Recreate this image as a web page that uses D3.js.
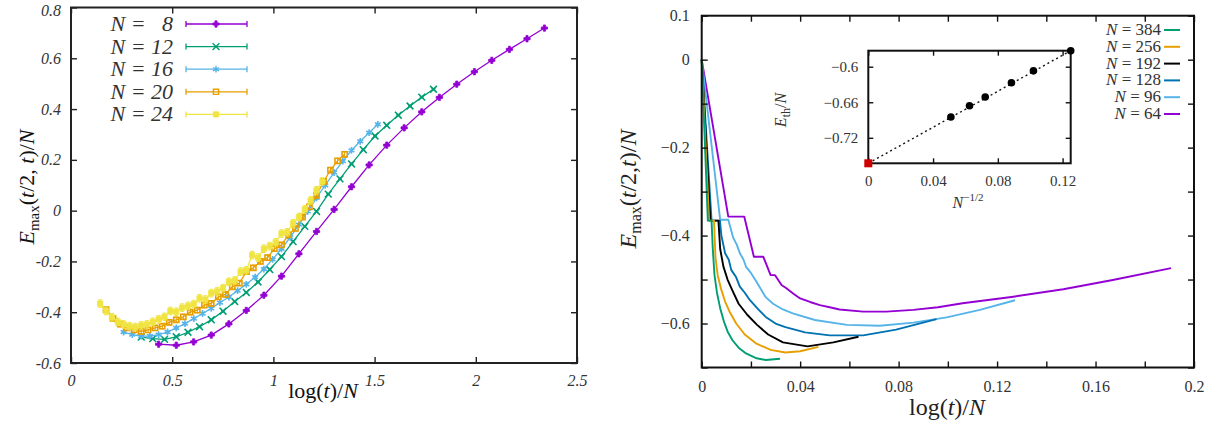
<!DOCTYPE html>
<html>
<head>
<meta charset="utf-8">
<script src="https://cdn.jsdelivr.net/npm/d3@7"></script>
<style>
  body { margin: 0; background: #fff; }
  svg text { font-family: "Liberation Serif", "Times New Roman", serif; }
</style>
</head>
<body>
<svg id="chart" width="1213" height="423"></svg>
<script>
// ---- left panel data: log(t)/N vs Emax(t/2,t)/N ----
const leftN = [8, 12, 16, 20, 24];

const l8x = [0.433,0.520,0.606,0.693,0.780,0.866,0.953,1.040,1.126,1.213,1.300,1.386,1.473,1.560,1.646,1.733,1.820,1.906,1.993,2.079,2.166,2.253,2.339];
const l8y = [-0.526,-0.530,-0.517,-0.490,-0.446,-0.393,-0.333,-0.258,-0.170,-0.082,0.005,0.094,0.180,0.258,0.326,0.389,0.446,0.498,0.547,0.592,0.635,0.677,0.719];

const l12x = [0.347,0.404,0.462,0.520,0.578,0.635,0.693,0.751,0.809,0.866,0.924,0.982,1.040,1.097,1.155,1.213,1.271,1.329,1.386,1.444,1.502,1.560,1.617,1.675,1.733,1.791];
const l12y = [-0.498,-0.504,-0.507,-0.497,-0.479,-0.457,-0.430,-0.396,-0.358,-0.322,-0.281,-0.232,-0.181,-0.122,-0.062,-0.003,0.065,0.125,0.184,0.240,0.294,0.336,0.376,0.412,0.447,0.478];

const l16x = [0.260,0.303,0.347,0.390,0.433,0.477,0.520,0.563,0.607,0.650,0.693,0.736,0.780,0.823,0.866,0.910,0.953,0.996,1.040,1.083,1.126,1.170,1.213,1.256,1.300,1.343,1.386,1.429,1.473,1.516];
const l16y = [-0.478,-0.488,-0.494,-0.494,-0.488,-0.478,-0.462,-0.445,-0.425,-0.405,-0.385,-0.362,-0.340,-0.315,-0.290,-0.262,-0.230,-0.192,-0.150,-0.105,-0.055,-0.003,0.050,0.100,0.150,0.195,0.237,0.273,0.307,0.340];

const l20x = [0.173,0.208,0.243,0.277,0.312,0.347,0.381,0.416,0.451,0.485,0.520,0.555,0.589,0.624,0.659,0.693,0.728,0.763,0.797,0.832,0.867,0.901,0.936,0.971,1.005,1.040,1.075,1.109,1.144,1.178,1.213,1.248,1.282,1.317,1.352];
const l20y = [-0.390,-0.425,-0.447,-0.462,-0.470,-0.475,-0.470,-0.462,-0.455,-0.440,-0.430,-0.418,-0.400,-0.392,-0.372,-0.365,-0.340,-0.330,-0.300,-0.285,-0.240,-0.225,-0.200,-0.185,-0.150,-0.135,-0.095,-0.070,-0.025,0.015,0.060,0.115,0.160,0.196,0.222];

const l24x = [0.144,0.173,0.202,0.231,0.260,0.289,0.318,0.347,0.375,0.404,0.433,0.462,0.491,0.520,0.549,0.578,0.606,0.635,0.664,0.693,0.722,0.751,0.780,0.809,0.838,0.866,0.895,0.924,0.953,0.982,1.011,1.040,1.068,1.097,1.126,1.155,1.184,1.213,1.242];
const l24y = [-0.366,-0.395,-0.420,-0.438,-0.448,-0.455,-0.458,-0.452,-0.448,-0.438,-0.428,-0.418,-0.395,-0.398,-0.382,-0.375,-0.368,-0.345,-0.350,-0.325,-0.318,-0.305,-0.280,-0.275,-0.240,-0.235,-0.175,-0.185,-0.150,-0.140,-0.125,-0.090,-0.085,-0.050,-0.025,0.005,0.040,0.080,0.115];

// typical error bar half-width per series
const leftErr = [0.003, 0.003, 0.004, 0.010, 0.015];

// ---- right panel data ----
const rightN = [384, 256, 192, 128, 96, 64];

const r384x = [0,0.0025,0.0040,0.0045,0.0052,0.0062,0.0075,0.0090,0.0105,0.0125,0.0150,0.0180,0.0223,0.0260,0.0318];
const r384y = [0,-0.366,-0.366,-0.430,-0.490,-0.530,-0.565,-0.595,-0.618,-0.638,-0.655,-0.668,-0.679,-0.683,-0.680];

const r256x = [0,0.0030,0.0050,0.0056,0.0065,0.0078,0.0095,0.0115,0.0140,0.0175,0.0220,0.0280,0.0340,0.0400,0.0474];
const r256y = [0,-0.366,-0.366,-0.450,-0.490,-0.520,-0.550,-0.575,-0.600,-0.625,-0.645,-0.660,-0.666,-0.663,-0.653];

const r192x = [0,0.0035,0.0068,0.0075,0.0088,0.0105,0.0125,0.0150,0.0185,0.0225,0.0270,0.0330,0.0430,0.0535,0.0637];
const r192y = [0,-0.366,-0.366,-0.430,-0.470,-0.500,-0.525,-0.555,-0.580,-0.603,-0.625,-0.643,-0.652,-0.643,-0.630];

const r128x = [0,0.0040,0.0074,0.0080,0.0095,0.0110,0.0120,0.0140,0.0155,0.0175,0.0196,0.0230,0.0260,0.0300,0.0340,0.0420,0.0520,0.0656,0.0790,0.0954];
const r128y = [0,-0.366,-0.366,-0.400,-0.440,-0.455,-0.478,-0.495,-0.516,-0.530,-0.547,-0.568,-0.585,-0.600,-0.608,-0.620,-0.627,-0.627,-0.614,-0.590];

const r96x = [0,0.0075,0.0108,0.0128,0.0142,0.0155,0.0170,0.0180,0.0200,0.0220,0.0260,0.0290,0.0330,0.0370,0.0460,0.0590,0.0724,0.0860,0.0995,0.1130,0.1273];
const r96y = [0,-0.364,-0.364,-0.405,-0.420,-0.440,-0.455,-0.471,-0.485,-0.503,-0.540,-0.555,-0.568,-0.577,-0.592,-0.603,-0.605,-0.598,-0.586,-0.569,-0.547];

const r64x = [0,0.0108,0.0173,0.0212,0.0250,0.0280,0.0298,0.0325,0.0340,0.0370,0.0400,0.0440,0.0480,0.0520,0.0560,0.0656,0.0750,0.0860,0.0960,0.1060,0.1266,0.1469,0.1670,0.1907];
const r64y = [0,-0.357,-0.357,-0.448,-0.448,-0.490,-0.490,-0.513,-0.518,-0.531,-0.543,-0.551,-0.558,-0.563,-0.568,-0.573,-0.573,-0.569,-0.563,-0.554,-0.539,-0.522,-0.501,-0.474];

// ---- inset data: N^{-1/2} vs E_th/N ----
const insetX = [0.051, 0.0625, 0.0722, 0.0884, 0.102, 0.125];
const insetY = [-0.685, -0.666, -0.651, -0.627, -0.607, -0.573];
const fitX = [0, 0.125];
const fitY = [-0.763, -0.573];

const svg = d3.select("#chart");
const zip = (xs, ys) => xs.map((x, i) => [x, ys[i]]);

// ================= LEFT PANEL =================
const L = { x0: 71, x1: 577, y0: 7.5, y1: 363 };
const xL = d3.scaleLinear().domain([0, 2.5]).range([L.x0, L.x1]);
const yL = d3.scaleLinear().domain([-0.6, 0.8]).range([L.y1, L.y0]);
const axisCol = "#222";
const labCol = "#333";

const leftStyle = [
  { color: "#9400d3", sym: d3.symbolCross, fill: true, size: 22 },
  { color: "#009e73", sym: d3.symbolTimes, fill: false, size: 32 },
  { color: "#56b4e9", sym: d3.symbolAsterisk, fill: false, size: 32 },
  { color: "#e69f00", sym: d3.symbolSquare2, fill: false, size: 34 },
  { color: "#f0e442", sym: d3.symbolSquare, fill: true, size: 28 }
];
const leftData = [zip(l8x, l8y), zip(l12x, l12y), zip(l16x, l16y), zip(l20x, l20y), zip(l24x, l24y)];

const lineL = d3.line().x(d => xL(d[0])).y(d => yL(d[1]));

leftData.forEach((pts, i) => {
  const st = leftStyle[i];
  const g = svg.append("g");
  g.append("path").attr("d", lineL(pts)).attr("fill", "none")
    .attr("stroke", st.color).attr("stroke-width", 1.3);
  // error bars
  g.selectAll("path.eb").data(pts).join("path").attr("class", "eb")
    .attr("d", d => {
      const x = xL(d[0]), ya = yL(d[1] - leftErr[i]), yb = yL(d[1] + leftErr[i]);
      return `M${x},${ya}V${yb}M${x - 2},${ya}H${x + 2}M${x - 2},${yb}H${x + 2}`;
    })
    .attr("stroke", st.color).attr("stroke-width", 1).attr("fill", "none");
  g.selectAll("path.mk").data(pts).join("path").attr("class", "mk")
    .attr("transform", d => `translate(${xL(d[0])},${yL(d[1])})`)
    .attr("d", d3.symbol(st.sym, st.size))
    .attr("fill", st.fill ? st.color : "none")
    .attr("stroke", st.color).attr("stroke-width", st.fill ? 0.8 : 1.6);
});

// frame
svg.append("rect").attr("x", L.x0).attr("y", L.y0)
  .attr("width", L.x1 - L.x0).attr("height", L.y1 - L.y0)
  .attr("fill", "none").attr("stroke", axisCol).attr("stroke-width", 2);

const lxTicks = [0, 0.5, 1, 1.5, 2, 2.5];
const lyTicks = [-0.6, -0.4, -0.2, 0, 0.2, 0.4, 0.6, 0.8];

function styleAxis(g, size, italic) {
  g.select(".domain").remove();
  g.selectAll(".tick line").attr("stroke", axisCol).attr("stroke-width", 1.4);
  g.selectAll(".tick text").attr("fill", labCol).attr("font-size", size)
    .attr("font-style", italic ? "italic" : "normal");
}

svg.append("g").attr("transform", `translate(0,${L.y1})`)
  .call(d3.axisBottom(xL).tickValues(lxTicks).tickSize(-6).tickPadding(12).tickFormat(d => String(d)))
  .call(g => styleAxis(g, 16, true));
svg.append("g").attr("transform", `translate(0,${L.y0})`)
  .call(d3.axisTop(xL).tickValues(lxTicks).tickSize(-6).tickFormat(""))
  .call(g => styleAxis(g, 16, true));
svg.append("g").attr("transform", `translate(${L.x0},0)`)
  .call(d3.axisLeft(yL).tickValues(lyTicks).tickSize(-6).tickPadding(10).tickFormat(d => String(d)))
  .call(g => styleAxis(g, 16, true))
  .call(g => g.selectAll(".tick text").filter(d => d === 0.8).attr("dy", "0.5em"));
svg.append("g").attr("transform", `translate(${L.x1},0)`)
  .call(d3.axisRight(yL).tickValues(lyTicks).tickSize(-6).tickFormat(""))
  .call(g => styleAxis(g, 16, true));

// left axis labels
const lyl = svg.append("text").attr("transform", "translate(34,187) rotate(-90)")
  .attr("text-anchor", "middle").attr("font-size", 22).attr("fill", "#111");
lyl.append("tspan").attr("font-style", "italic").text("E");
lyl.append("tspan").attr("font-size", 15).attr("dy", 5).text("max");
lyl.append("tspan").attr("dy", -5).text("(");
lyl.append("tspan").attr("font-style", "italic").text("t");
lyl.append("tspan").text("/2, ");
lyl.append("tspan").attr("font-style", "italic").text("t");
lyl.append("tspan").text(")/");
lyl.append("tspan").attr("font-style", "italic").text("N");

const lxl = svg.append("text").attr("x", 323).attr("y", 398)
  .attr("text-anchor", "middle").attr("font-size", 22).attr("fill", "#111");
lxl.append("tspan").text("log(");
lxl.append("tspan").attr("font-style", "italic").text("t");
lxl.append("tspan").text(")/");
lxl.append("tspan").attr("font-style", "italic").text("N");

// left legend
const legL = svg.append("g");
leftN.forEach((n, i) => {
  const st = leftStyle[i];
  const cy = 24 + i * 22.6;
  legL.append("text").attr("x", 173).attr("y", cy + 7).attr("text-anchor", "end")
    .attr("font-size", 22).attr("font-style", "italic").attr("fill", "#333")
    .style("white-space", "pre")
    .text(n < 10 ? `N =   ${n}` : `N = ${n}`);
  legL.append("path")
    .attr("d", `M186,${cy}H247M186,${cy - 3}V${cy + 3}M247,${cy - 3}V${cy + 3}`)
    .attr("stroke", st.color).attr("stroke-width", 1.3).attr("fill", "none");
  legL.append("path").attr("transform", `translate(216,${cy})`)
    .attr("d", d3.symbol(st.sym, st.size))
    .attr("fill", st.fill ? st.color : "none")
    .attr("stroke", st.color).attr("stroke-width", st.fill ? 0.8 : 1.4);
});

// ================= RIGHT PANEL =================
const R = { x0: 701.7, x1: 1194, y0: 15.7, y1: 367.5 };
const xR = d3.scaleLinear().domain([0, 0.2]).range([R.x0, R.x1]);
const yR = d3.scaleLinear().domain([-0.7, 0.1]).range([R.y1, R.y0]);
const minus = s => s.replace("-", "\u2212");

const rightColors = ["#009e73", "#e69f00", "#000000", "#0072b2", "#56b4e9", "#9400d3"];
const rightData = [zip(r384x, r384y), zip(r256x, r256y), zip(r192x, r192y), zip(r128x, r128y), zip(r96x, r96y), zip(r64x, r64y)];
const lineR = d3.line().x(d => xR(d[0])).y(d => yR(d[1]));

// draw N=64 first so larger N sit on top
for (let i = rightData.length - 1; i >= 0; i--) {
  svg.append("path").attr("d", lineR(rightData[i])).attr("fill", "none")
    .attr("stroke", rightColors[i]).attr("stroke-width", 1.9).attr("stroke-linejoin", "round");
}

svg.append("rect").attr("x", R.x0).attr("y", R.y0)
  .attr("width", R.x1 - R.x0).attr("height", R.y1 - R.y0)
  .attr("fill", "none").attr("stroke", "#111").attr("stroke-width", 2);

const rxTicks = d3.range(0, 11).map(i => i * 0.02);
const ryTicks = d3.range(0, 9).map(i => -0.7 + i * 0.1);
const rxFmt = d => (Math.round(d * 100) % 4 === 0) ? String(+d.toFixed(2)) : "";
const ryLabeled = [0.1, 0, -0.2, -0.4, -0.6];
const ryFmt = d => ryLabeled.some(v => Math.abs(v - d) < 1e-6) ? minus(String(+d.toFixed(1))) : "";

function styleR(g) {
  g.select(".domain").remove();
  g.selectAll(".tick line").attr("stroke", "#111").attr("stroke-width", 1.4);
  g.selectAll(".tick text").attr("fill", labCol).attr("font-size", 16);
}
svg.append("g").attr("transform", `translate(0,${R.y1})`)
  .call(d3.axisBottom(xR).tickValues(rxTicks).tickSize(-6).tickPadding(13).tickFormat(rxFmt)).call(styleR);
svg.append("g").attr("transform", `translate(0,${R.y0})`)
  .call(d3.axisTop(xR).tickValues(rxTicks).tickSize(-6).tickFormat("")).call(styleR);
svg.append("g").attr("transform", `translate(${R.x0},0)`)
  .call(d3.axisLeft(yR).tickValues(ryTicks).tickSize(-6).tickPadding(12).tickFormat(ryFmt)).call(styleR);
svg.append("g").attr("transform", `translate(${R.x1},0)`)
  .call(d3.axisRight(yR).tickValues(ryTicks).tickSize(-6).tickFormat("")).call(styleR);

const ryl = svg.append("text").attr("transform", "translate(636,189) rotate(-90)")
  .attr("text-anchor", "middle").attr("font-size", 24).attr("fill", "#222");
ryl.append("tspan").attr("font-style", "italic").text("E");
ryl.append("tspan").attr("font-size", 16).attr("dy", 5).text("max");
ryl.append("tspan").attr("dy", -5).text("(");
ryl.append("tspan").attr("font-style", "italic").text("t");
ryl.append("tspan").text("/2,");
ryl.append("tspan").attr("font-style", "italic").text("t");
ryl.append("tspan").text(")/");
ryl.append("tspan").attr("font-style", "italic").text("N");

const rxl = svg.append("text").attr("x", 947).attr("y", 415)
  .attr("text-anchor", "middle").attr("font-size", 24).attr("fill", "#222");
rxl.append("tspan").text("log(");
rxl.append("tspan").attr("font-style", "italic").text("t");
rxl.append("tspan").text(")/");
rxl.append("tspan").attr("font-style", "italic").text("N");

// right legend
rightN.forEach((n, i) => {
  const cy = 30 + i * 16.8;
  const t = svg.append("text").attr("x", 1161).attr("y", cy + 5).attr("text-anchor", "end")
    .attr("font-size", 17).attr("fill", "#333");
  t.append("tspan").attr("font-style", "italic").text("N");
  t.append("tspan").text(` = ${n}`);
  svg.append("line").attr("x1", 1164).attr("x2", 1180).attr("y1", cy).attr("y2", cy)
    .attr("stroke", rightColors[i]).attr("stroke-width", 2);
});

// ================= INSET =================
const I = { x0: 868.3, x1: 1070.7, y0: 50.7, y1: 163.3 };
const xI = d3.scaleLinear().domain([0, 0.125]).range([I.x0, I.x1]);
const yI = d3.scaleLinear().domain([-0.763, -0.573]).range([I.y1, I.y0]);

svg.append("rect").attr("x", I.x0).attr("y", I.y0)
  .attr("width", I.x1 - I.x0).attr("height", I.y1 - I.y0)
  .attr("fill", "#fff").attr("stroke", "#111").attr("stroke-width", 2);

const ixTicks = [0, 0.04, 0.08, 0.12];
const iyTicks = [-0.72, -0.66, -0.6];
svg.append("g").attr("transform", `translate(0,${I.y1})`)
  .call(d3.axisBottom(xI).tickValues(ixTicks).tickSize(-5).tickPadding(12).tickFormat(d => String(d)))
  .call(g => { styleR(g); g.selectAll(".tick text").attr("font-size", 15); });
svg.append("g").attr("transform", `translate(0,${I.y0})`)
  .call(d3.axisTop(xI).tickValues(ixTicks).tickSize(-5).tickFormat("")).call(styleR);
svg.append("g").attr("transform", `translate(${I.x0},0)`)
  .call(d3.axisLeft(yI).tickValues(iyTicks).tickSize(-5).tickPadding(10).tickFormat(d => minus(String(d))))
  .call(g => { styleR(g); g.selectAll(".tick text").attr("font-size", 15); });
svg.append("g").attr("transform", `translate(${I.x1},0)`)
  .call(d3.axisRight(yI).tickValues(iyTicks).tickSize(-5).tickFormat("")).call(styleR);

svg.append("path").attr("d", d3.line().x(d => xI(d[0])).y(d => yI(d[1]))(zip(fitX, fitY)))
  .attr("stroke", "#111").attr("stroke-width", 1.4).attr("stroke-dasharray", "2,3").attr("fill", "none");

svg.selectAll("circle.ipt").data(zip(insetX, insetY)).join("circle").attr("class", "ipt")
  .attr("cx", d => xI(d[0])).attr("cy", d => yI(d[1])).attr("r", 3.8).attr("fill", "#000");

svg.append("rect").attr("x", xI(fitX[0]) - 4).attr("y", yI(fitY[0]) - 4)
  .attr("width", 8).attr("height", 8).attr("fill", "#d00000");

const iyl = svg.append("text").attr("transform", "translate(786,110) rotate(-90)")
  .attr("text-anchor", "middle").attr("font-size", 16).attr("fill", "#333");
iyl.append("tspan").attr("font-style", "italic").text("E");
iyl.append("tspan").attr("font-size", 12).attr("dy", 4).text("th");
iyl.append("tspan").attr("dy", -4).text("/");
iyl.append("tspan").attr("font-style", "italic").text("N");

const ixl = svg.append("text").attr("x", 968).attr("y", 208)
  .attr("text-anchor", "middle").attr("font-size", 16).attr("fill", "#333");
ixl.append("tspan").attr("font-style", "italic").text("N");
ixl.append("tspan").attr("font-size", 11).attr("dy", -7).text("\u22121/2");
</script>
</body>
</html>
